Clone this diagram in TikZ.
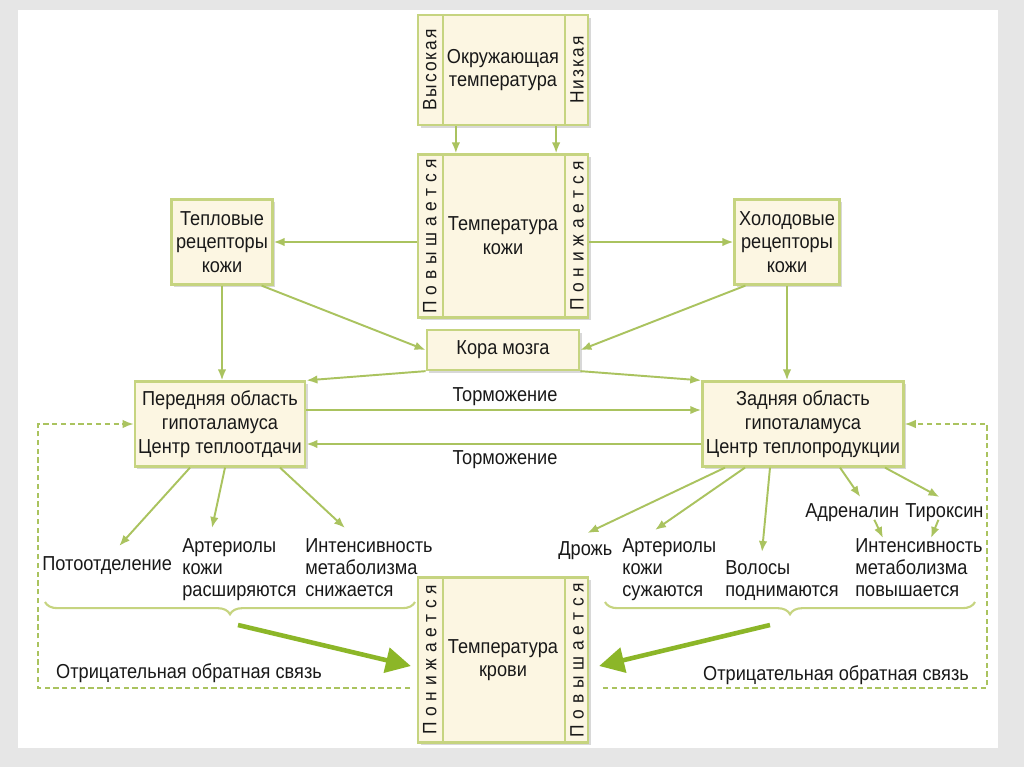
\documentclass[tikz,border=0pt]{standalone}
\usepackage{fontspec}
\setmainfont{Liberation Sans}[FakeStretch=0.9]
\usetikzlibrary{arrows.meta,calc,shadows,decorations.pathreplacing}

\definecolor{boxfill}{RGB}{252,246,226}
\definecolor{boxline}{RGB}{198,212,128}
\definecolor{arrline}{RGB}{170,195,95}
\definecolor{bigline}{RGB}{140,182,40}
\definecolor{txt}{RGB}{25,25,25}
\definecolor{slide}{RGB}{230,230,230}

\begin{document}
\begin{tikzpicture}[
  x=0.02cm, y=-0.02cm,
  font=\fontsize{11.5}{13.5}\selectfont, text=txt,
  box/.style={draw=boxline, fill=boxfill, line width=1.3pt, align=center, inner sep=2pt,
    drop shadow={shadow xshift=1.5pt, shadow yshift=-1.5pt, opacity=0.3}},
  tempbox/.style={box, minimum width=3.4cm},
  sidetext/.style={rotate=90, inner sep=0pt, font=\fontsize{11}{11}\selectfont\addfontfeature{LetterSpace=10}},
  sidewide/.style={sidetext, font=\fontsize{11}{11}\selectfont\addfontfeature{LetterSpace=30}},
  divider/.style={draw=boxline, line width=1pt},
  effect/.style={align=left, anchor=north west, inner sep=0pt, font=\fontsize{11.5}{12.5}\selectfont},
  inhib/.style={font=\fontsize{11.5}{12}\selectfont},
  arrow/.style={draw=arrline, line width=1.1pt, -{Latex[length=2.2mm,width=1.7mm]}},
  feedback/.style={draw=arrline, line width=0.9pt, dash pattern=on 3pt off 2pt},
  bigarrow/.style={draw=bigline, line width=2.6pt, -{Triangle[length=5mm,width=5mm]}},
  bracket/.style={draw=boxline, line width=1.2pt, decorate, decoration={brace, amplitude=7pt, mirror}}
]
\fill[slide] (0,0) rectangle (1024,767);
\fill[white] (18,10) rectangle (998,748);
\useasboundingbox (0,0) rectangle (1024,767);

% temperature boxes
\node[tempbox, minimum height=2.2cm] (env) at (503,70) {Окружающая\\температура};
\draw[divider] ($(env.north west)+(26,0)$) -- ($(env.south west)+(26,0)$);
\draw[divider] ($(env.north east)+(-24,0)$) -- ($(env.south east)+(-24,0)$);
\node[sidetext] (envhigh) at ($(env.west)+(13,0)$) {Высокая};
\node[sidetext] (envlow) at ($(env.east)+(-12,0)$) {Низкая};

\node[tempbox, minimum height=3.26cm] (skin) at (503,236) {Температура\\кожи};
\draw[divider] ($(skin.north west)+(26,0)$) -- ($(skin.south west)+(26,0)$);
\draw[divider] ($(skin.north east)+(-24,0)$) -- ($(skin.south east)+(-24,0)$);
\node[sidewide] (skinup) at ($(skin.west)+(13,0)$) {Повышается};
\node[sidewide] (skindown) at ($(skin.east)+(-12,0)$) {Понижается};

\node[tempbox, minimum height=3.3cm] (blood) at (503,660) {Температура\\крови};
\draw[divider] ($(blood.north west)+(26,0)$) -- ($(blood.south west)+(26,0)$);
\draw[divider] ($(blood.north east)+(-24,0)$) -- ($(blood.south east)+(-24,0)$);
\node[sidewide] (blooddown) at ($(blood.west)+(13,0)$) {Понижается};
\node[sidewide] (bloodup) at ($(blood.east)+(-12,0)$) {Повышается};

% receptors, cortex, hypothalamus
\node[box, minimum width=2.02cm, minimum height=1.7cm] (heat) at (222,242) {Тепловые\\рецепторы\\кожи};
\node[box, minimum width=2.1cm, minimum height=1.7cm] (cold) at (787,242) {Холодовые\\рецепторы\\кожи};
\node[box, minimum width=3.05cm, minimum height=0.8cm] (cortex) at (503,350) {Кора мозга};
\node[box, minimum width=3.4cm, minimum height=1.7cm] (anterior) at (220,424) {Передняя область\\гипоталамуса\\Центр теплоотдачи};
\node[box, minimum width=3.95cm, minimum height=1.7cm] (posterior) at (803,424) {Задняя область\\гипоталамуса\\Центр теплопродукции};

\draw[arrow] ($(env.south west)+(39,0)$) -- ($(skin.north west)+(39,0)$);
\draw[arrow] ($(env.south east)+(-33,0)$) -- ($(skin.north east)+(-33,0)$);
\draw[arrow] (skin.west |- heat.east) -- (heat.east);
\draw[arrow] (skin.east |- cold.west) -- (cold.west);
\draw[arrow] ($(heat.south east)+(-12,0)$) -- (cortex.west);
\draw[arrow] ($(cold.south west)+(12,0)$) -- (cortex.east);
\draw[arrow] (heat.south) -- (heat.south |- anterior.north);
\draw[arrow] (cold.south) -- (cold.south |- posterior.north);
\draw[arrow] (cortex.south west) -- (anterior.north east);
\draw[arrow] (cortex.south east) -- (posterior.north west);

\draw[arrow] ($(anterior.east)+(0,-14)$) -- ($(posterior.west)+(0,-14)$);
\draw[arrow] ($(posterior.west)+(0,20)$) -- ($(anterior.east)+(0,20)$);
\node[inhib] (inhib1) at (505,397) {Торможение};
\node[inhib] (inhib2) at (505,460) {Торможение};

% effectors
\node[effect] (sweat) at (42,556) {Потоотделение};
\node[effect] (artl) at (182,538) {Артериолы\\кожи\\расширяются};
\node[effect] (metl) at (305,538) {Интенсивность\\метаболизма\\снижается};
\node[effect] (shiver) at (558,541) {Дрожь};
\node[effect] (artr) at (622,538) {Артериолы\\кожи\\сужаются};
\node[effect] (hair) at (725,560) {Волосы\\поднимаются};
\node[effect] (adren) at (805,503) {Адреналин};
\node[effect] (thyrox) at (905,503) {Тироксин};
\node[effect] (metr) at (855,538) {Интенсивность\\метаболизма\\повышается};

\draw[arrow] ($(anterior.south)+(-30,0)$) -- ($(sweat.north)+(12,-10)$);
\draw[arrow] ($(anterior.south)+(5,0)$) -- ($(artl.north west)+(30,-10)$);
\draw[arrow] ($(anterior.south)+(60,0)$) -- ($(metl.north west)+(40,-10)$);
\draw[arrow] ($(posterior.south)+(-78,0)$) -- ($(shiver.north)+(2,-8)$);
\draw[arrow] ($(posterior.south)+(-58,0)$) -- ($(artr.north west)+(33,-8)$);
\draw[arrow] ($(posterior.south)+(-33,0)$) -- ($(hair.north west)+(37,-8)$);
\draw[arrow] ($(posterior.south)+(37,0)$) -- ($(adren.north)+(8,-6)$);
\draw[arrow] ($(posterior.south)+(82,0)$) -- ($(thyrox.north)+(-5,-6)$);
\draw[arrow] ($(adren.south)+(22,-2)$) -- ($(metr.north west)+(28,0)$);
\draw[arrow] ($(thyrox.south)+(-6,-2)$) -- ($(metr.north west)+(76,0)$);

% negative feedback
\coordinate (lbl) at (45,602);
\coordinate (lbr) at (415,602);
\coordinate (rbl) at (605,602);
\coordinate (rbr) at (975,602);
\draw[bracket] (lbl) -- (lbr);
\draw[bracket] (rbl) -- (rbr);
\coordinate (lfb) at (238,625);
\coordinate (rfb) at (770,625);
\draw[bigarrow] (lfb) -- ($(blood.west)+(-6,6)$);
\draw[bigarrow] (rfb) -- ($(blood.east)+(10,6)$);
\node[inhib] (negl) at (189,673) {Отрицательная обратная связь};
\node[inhib] (negr) at (836,675) {Отрицательная обратная связь};

\coordinate (fbl) at (38,688);
\coordinate (fbr) at (987,688);
\coordinate (fbli) at (410,688);
\coordinate (fbri) at (603,688);
\draw[feedback, -{Latex[length=2.2mm,width=1.7mm]}] (fbli) -- (fbl) -- (fbl |- anterior.west) -- (anterior.west);
\draw[feedback, -{Latex[length=2.2mm,width=1.7mm]}] (fbri) -- (fbr) -- (fbr |- posterior.east) -- (posterior.east);
\end{tikzpicture}
\end{document}
